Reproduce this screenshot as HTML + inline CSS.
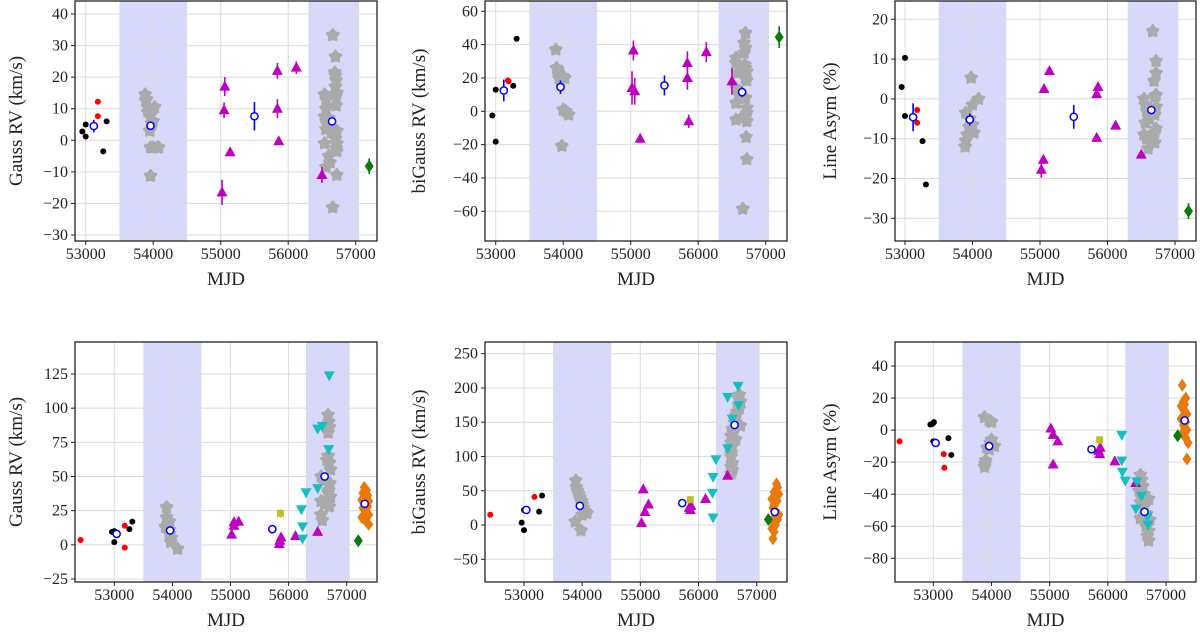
<!DOCTYPE html>
<html><head><meta charset="utf-8"><style>
html,body{margin:0;padding:0;background:#fff;}
svg{display:block;font-family:"Liberation Serif",serif;}
</style></head><body>
<svg id="fig" width="1200" height="632" viewBox="0 0 1200 632" xmlns="http://www.w3.org/2000/svg"></svg>
<script>
// ---- data (MJD, value[, error]) ----
const tlBlack=[[52950,2.8],[53000,5],[53000,1.2],[53260,-3.5],[53310,6]];
const tlRed=[[53180,12.2],[53180,7.6]];
const tlBlue=[[53120,4.5,2],[53960,4.6,1],[55500,7.6,4.5],[56650,6,1]];
const tlGray=[[53880,14.5],[53890,12.5],[53900,13],[53920,9],[53940,10],[53960,8],[53980,5.5],[54000,6],[53950,3],[54020,10.5],[53960,-2.3],[54000,-2.3],[54060,-2.3],[54080,-2.3],[53960,-11.3],
[56660,33.3],[56700,26.5],[56690,21.5],[56700,20.5],[56710,19],[56700,17],[56720,15],[56710,14],[56710,11],[56540,14.5],[56560,13],[56560,10],[56540,7.5],[56560,6],[56580,5],[56560,3.5],[56640,2.5],[56700,2.5],[56720,3],[56540,-1],[56720,-1],[56710,-2.5],[56720,-3.5],[56600,-5],[56620,-7],[56560,-8.5],[56720,-11],[56660,-21.3],[56600,7],[56620,4],[56700,0.5]];
const tlMag=[[55020,-16.5,4],[55050,9.5,2.5],[55060,17,3],[55140,-3.8,1],[55840,22,2.5],[55840,10,3],[55860,-0.3,1],[56120,23,2],[56500,-11,2.5]];
const tlGreen=[[57200,-8.2,2.5]];

const tmBlack=[[52950,-2.5],[53000,13],[53000,-18.2],[53260,15.3],[53310,43.5]];
const tmRed=[[53180,18.5],[53190,18]];
const tmBlue=[[53120,12.5,6.5],[53960,14.5,4],[55500,15.5,6],[56650,11.5,3]];
const tmGray=[[53890,37],[53900,26],[53920,25],[53940,20],[53960,18.5],[54000,21],[54020,20],[54000,1],[54040,0],[54080,-2],[53980,-20.8],
[56700,47],[56680,41],[56700,38],[56560,32],[56560,29],[56700,26],[56720,24],[56580,23],[56700,20],[56720,18.5],[56560,14],[56600,10],[56560,5],[56700,8],[56720,2],[56720,-1],[56700,-3],[56560,-5],[56720,-6],[56640,-4],[56710,-15.5],[56720,-28.8],[56660,-58.5],[56680,35],[56690,28]];
const tmMag=[[55020,14,10],[55040,36.5,6],[55060,12,8],[55140,-16.5,2],[55840,29,7],[55840,20,7],[55860,-6,4],[56120,35.5,6],[56500,18,8]];
const tmGreen=[[57200,44.5,6.5]];

const trBlack=[[52950,3],[53000,10.3],[53000,-4.3],[53260,-10.6],[53310,-21.5]];
const trRed=[[53180,-2.8],[53180,-6]];
const trBlue=[[53120,-4.6,3.5],[53960,-5.2,1.5],[55500,-4.5,3],[56650,-2.8,1]];
const trGray=[[53980,5.3],[54000,-1.5],[54090,0],[53900,-3.5],[53960,-5],[53950,-7],[54020,-8.5],[53920,-9],[53900,-10.5],[53890,-12],[54000,-6.5],
[56670,17],[56720,9.5],[56720,6.5],[56690,4.5],[56720,1],[56540,0],[56560,-1.5],[56580,-3],[56700,-4],[56620,-5],[56560,-6],[56720,-7.5],[56540,-9],[56580,-10],[56700,-11],[56600,-12.5],[56700,-8.5],[56700,0.5],[56720,-2]];
const trMag=[[55020,-17.8,2],[55050,-15.3,1],[55060,2.5,1],[55140,7,1],[55840,1.2,1],[55860,3,1],[55840,-9.8,1],[56120,-6.7,1],[56500,-14,1]];
const trGreen=[[57200,-28.2,2]];

const blRed=[[52420,3.5],[53180,14],[53180,-2]];
const blBlack=[[52960,9.5],[53000,10],[53000,2],[53260,11.5],[53310,17]];
const blBlue=[[53040,8,1.5],[53960,10.5,1],[55720,11.5,1],[56620,50,1],[57310,30,1]];
const blGray=[[53900,27.5],[53900,20],[53950,17],[53880,13],[53950,11],[53950,8],[53980,5],[53970,2],[54090,-3],[53920,15],
[56680,95],[56690,90],[56700,86],[56680,82],[56680,65],[56700,60],[56720,55],[56560,50],[56710,45],[56690,40],[56720,35],[56560,32],[56620,30],[56700,28],[56560,22],[56580,18],[56660,62],[56600,47],[56680,38]];
const blMag=[[55020,7.5],[55060,16.5],[55060,14],[55140,17],[55840,0.5],[55850,3],[55870,5.5],[56120,6.5],[56500,9.5]];
const blCyan=[[56220,26],[56240,13.5],[56240,4.5],[56300,38.5],[56500,85],[56580,87],[56700,124],[56690,70],[56500,41.5]];
const blOlive=[[55860,23,3]];
const blGreen=[[57200,3,3]];
const blOrange=[[57300,42],[57340,40],[57280,38],[57360,36],[57320,35],[57260,33],[57380,32],[57300,30],[57360,28],[57280,27],[57330,25],[57380,22],[57260,20],[57300,19],[57340,17],[57380,15],[57320,21],[57290,31],[57350,37],[57310,26]];

const bmRed=[[52420,15],[53180,41]];
const bmBlack=[[52960,3.5],[53000,-7.5],[53000,22],[53260,19.5],[53310,43]];
const bmBlue=[[53040,22,4],[53960,28,2],[55720,32,2],[56620,146,2],[57310,19,2]];
const bmGray=[[53890,65],[53900,55],[53920,50],[53940,45],[53960,40],[53990,35],[54000,30],[54020,25],[54050,20],[54080,17],[54000,15],[53880,5],[53980,-8],
[56700,190],[56680,185],[56720,180],[56690,175],[56700,170],[56660,165],[56640,160],[56620,150],[56720,145],[56580,140],[56600,135],[56560,130],[56640,125],[56560,120],[56580,115],[56560,105],[56560,100],[56580,90],[56560,85],[56580,80],[56560,75]];
const bmMag=[[55020,3],[55050,52],[55080,19],[55140,30],[55840,25],[55860,22],[55870,28],[56120,38],[56500,72]];
const bmCyan=[[56240,47],[56250,70],[56250,11],[56300,96],[56500,187],[56580,155],[56680,203],[56690,175],[56500,112]];
const bmOlive=[[55860,37,3]];
const bmGreen=[[57200,8]];
const bmOrange=[[57340,60],[57360,55],[57300,48],[57380,45],[57320,40],[57260,38],[57350,35],[57300,30],[57280,25],[57320,20],[57380,15],[57300,10],[57360,8],[57280,5],[57320,0],[57260,-5],[57300,-10],[57280,-20],[57340,12],[57300,28]];

const brRed=[[52420,-7],[53180,-15],[53190,-23.5]];
const brBlack=[[52950,3.5],[52990,4],[53010,5],[53000,-7],[53260,-5],[53310,-15.5]];
const brBlue=[[53040,-8,2],[53960,-10,1],[55720,-12,1],[56630,-51,1],[57320,6,1]];
const brGray=[[53880,8],[53960,6],[54000,5],[54000,-6],[53980,-8],[54050,-10],[53960,-12],[53900,-19],[53890,-21],[53880,-23],[53920,-11],
[56560,-28],[56580,-31],[56600,-35],[56540,-38],[56620,-40],[56700,-43],[56560,-45],[56620,-48],[56660,-52],[56560,-55],[56680,-58],[56660,-60],[56700,-63],[56680,-66],[56700,-69],[56580,-42],[56720,-56]];
const brMag=[[55020,1],[55060,-3],[55140,-7],[55060,-21.5],[55840,-13],[55860,-15],[55870,-11],[56120,-19.5],[56480,-33]];
const brCyan=[[56240,-3],[56240,-19],[56250,-26],[56300,-31.5],[56480,-49],[56500,-32],[56580,-41],[56680,-54],[56690,-59]];
const brOlive=[[55860,-6]];
const brGreen=[[57200,-3.5]];
const brOrange=[[57280,28],[57340,20],[57300,18],[57260,15],[57320,12],[57360,10],[57280,8],[57340,5],[57300,3],[57360,0],[57280,-2],[57340,-5],[57380,-8],[57360,-18],[57320,16],[57300,13],[57260,7]];

const xTicks=[53000,54000,55000,56000,57000];
const bands=[[53500,54500],[56300,57050]];
const tlTicks=[-30,-20,-10,0,10,20,30,40];
const tmTicks=[-60,-40,-20,0,20,40,60];
const trTicks=[-30,-20,-10,0,10,20];
const blTicks=[-25,0,25,50,75,100,125];
const bmTicks=[-50,0,50,100,150,200,250];
const brTicks=[-80,-60,-40,-20,0,20,40];

const NS="http://www.w3.org/2000/svg";
const svg=document.getElementById('fig');
function mk(tag,attrs,parent){const e=document.createElementNS(NS,tag);for(const k in attrs)e.setAttribute(k,attrs[k]);(parent||svg).appendChild(e);return e;}
function lin(v1,p1,v2,p2){return v=>p1+(v-v1)*(p2-p1)/(v2-v1);}
function fmt(v){return v<0?'\u2212'+Math.abs(v):String(v);}

function panel(cfg){
  const g=mk('g',{});
  
  
  const X=lin(53000,cfg.x53,57000,cfg.x57), Y=lin(cfg.v1,cfg.p1,cfg.v2,cfg.p2);
  const L=cfg.L,R=cfg.R,T=cfg.T,B=cfg.B;
  const clip='c'+cfg.name;
  const cp=mk('clipPath',{id:clip},g);mk('rect',{x:L,y:T,width:R-L,height:B-T},cp);
  const inner=mk('g',{'clip-path':'url(#'+clip+')'},g);
  bands.forEach(b=>{const r=mk('rect',{x:X(b[0]),y:T,width:X(b[1])-X(b[0]),height:B-T,fill:'#d8d8fb'},inner);
    });
  xTicks.forEach(t=>{mk('line',{x1:X(t),x2:X(t),y1:T,y2:B,stroke:'#dcdcdc','stroke-width':1},inner);});
  cfg.yt.forEach(t=>{mk('line',{x1:L,x2:R,y1:Y(t),y2:Y(t),stroke:'#dcdcdc','stroke-width':1},inner);});
  const err=(d,c,w)=>{if(d[2])mk('line',{x1:X(d[0]),x2:X(d[0]),y1:Y(d[1]-d[2]),y2:Y(d[1]+d[2]),stroke:c,'stroke-width':w||1.6},inner);};
  const draw=(arr,type,color,nm)=>{(arr||[]).forEach(d=>{
    err(d,color);
    const x=X(d[0]),y=Y(d[1]);let e;
    if(type==='dot')e=mk('circle',{cx:x,cy:y,r:3,fill:color},inner);
    else if(type==='open')e=mk('circle',{cx:x,cy:y,r:3.6,fill:'#fff',stroke:color,'stroke-width':1.5},inner);
    else if(type==='star'){let p=[];for(let i=0;i<10;i++){const a=-Math.PI/2+i*Math.PI/5,rr=i%2?3.6:6;p.push((x+rr*Math.cos(a)).toFixed(1)+','+(y+rr*Math.sin(a)).toFixed(1));}
      e=mk('polygon',{points:p.join(' '),fill:color,stroke:color,'stroke-width':2.2,'stroke-linejoin':'round'},inner);}
    else if(type==='up')e=mk('polygon',{points:`${x},${y-6} ${x-5.5},${y+4} ${x+5.5},${y+4}`,fill:color},inner);
    else if(type==='down')e=mk('polygon',{points:`${x},${y+6} ${x-5.5},${y-4} ${x+5.5},${y-4}`,fill:color},inner);
    else if(type==='diam')e=mk('polygon',{points:`${x},${y-6.5} ${x-4.5},${y} ${x},${y+6.5} ${x+4.5},${y}`,fill:color},inner);
    else if(type==='sq')e=mk('rect',{x:x-3.5,y:y-3.5,width:7,height:7,fill:color},inner);
    
    
  });};
  draw(cfg.gray,'star','#aaaaaa','gray-star-point');
  draw(cfg.orange,'diam','#e87a0c','orange-diamond-point');
  draw(cfg.black,'dot','#000','black-dot-point');
  draw(cfg.red,'dot','#f00','red-dot-point');
  draw(cfg.mag,'up','#c000c0','magenta-triangle-point');
  draw(cfg.cyan,'down','#16c0c0','cyan-triangle-point');
  draw(cfg.olive,'sq','#c0c020','olive-square-point');
  draw(cfg.green,'diam','#0a7a0a','green-diamond-point');
  draw(cfg.blue,'open','#0000ff','blue-mean-point');
  const fr=mk('rect',{x:L,y:T,width:R-L,height:B-T,fill:'none',stroke:'#222','stroke-width':1.3},g);
  
  xTicks.forEach(t=>{mk('line',{x1:X(t),x2:X(t),y1:B,y2:B+4,stroke:'#222'},g);
    const tx=mk('text',{x:X(t),y:B+18,'font-size':16,'text-anchor':'middle',fill:'#222'},g);tx.textContent=t;
    });
  cfg.yt.forEach(t=>{mk('line',{x1:L-4,x2:L,y1:Y(t),y2:Y(t),stroke:'#222'},g);
    const tx=mk('text',{x:L-7,y:Y(t)+5,'font-size':16,'text-anchor':'end',fill:'#222'},g);tx.textContent=fmt(t);
    });
  const xl=mk('text',{x:(L+R)/2,y:B+44,'font-size':19,'text-anchor':'middle',fill:'#222'},g);xl.textContent='MJD';
  
  const yl=mk('text',{x:0,y:0,'font-size':19,'text-anchor':'middle',fill:'#222',transform:`translate(${cfg.yl},${(T+B)/2}) rotate(-90)`},g);yl.textContent=cfg.ylabel;
  
}

panel({name:'panel-gauss-rv-top',L:75,R:377,T:1,B:241,x53:85.7,x57:355.7,v1:40,p1:14,v2:-30,p2:235,yt:tlTicks,ylabel:'Gauss RV (km/s)',yl:22,
 black:tlBlack,red:tlRed,blue:tlBlue,gray:tlGray,mag:tlMag,green:tlGreen});
panel({name:'panel-bigauss-rv-top',L:485,R:787,T:1,B:241,x53:495.7,x57:765.7,v1:60,p1:11.3,v2:-60,p2:211.3,yt:tmTicks,ylabel:'biGauss RV (km/s)',yl:425,
 black:tmBlack,red:tmRed,blue:tmBlue,gray:tmGray,mag:tmMag,green:tmGreen});
panel({name:'panel-line-asym-top',L:895,R:1196,T:1,B:241,x53:905,x57:1175,v1:20,p1:19.3,v2:-30,p2:218.3,yt:trTicks,ylabel:'Line Asym (%)',yl:836,
 black:trBlack,red:trRed,blue:trBlue,gray:trGray,mag:trMag,green:trGreen});
panel({name:'panel-gauss-rv-bottom',L:75,R:377,T:342,B:582,x53:114.3,x57:346.7,v1:125,p1:374,v2:-25,p2:579,yt:blTicks,ylabel:'Gauss RV (km/s)',yl:22,
 black:blBlack,red:blRed,blue:blBlue,gray:blGray,mag:blMag,cyan:blCyan,olive:blOlive,green:blGreen,orange:blOrange});
panel({name:'panel-bigauss-rv-bottom',L:485,R:787,T:342,B:582,x53:524,x57:756.7,v1:250,p1:353.7,v2:-50,p2:559.3,yt:bmTicks,ylabel:'biGauss RV (km/s)',yl:425,
 black:bmBlack,red:bmRed,blue:bmBlue,gray:bmGray,mag:bmMag,cyan:bmCyan,olive:bmOlive,green:bmGreen,orange:bmOrange});
panel({name:'panel-line-asym-bottom',L:895,R:1196,T:342,B:582,x53:933.3,x57:1166,v1:40,p1:366,v2:-80,p2:558.3,yt:brTicks,ylabel:'Line Asym (%)',yl:836,
 black:brBlack,red:brRed,blue:brBlue,gray:brGray,mag:brMag,cyan:brCyan,olive:brOlive,green:brGreen,orange:brOrange});
</script>
</body></html>
